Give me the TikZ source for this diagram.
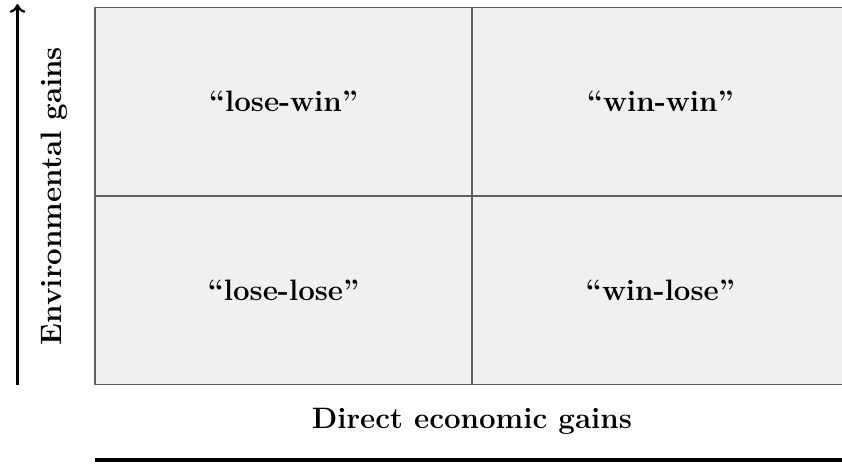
\documentclass[tikz,border=0pt]{standalone}
\usepackage{tikz}
\usetikzlibrary{positioning, arrows.meta}

\begin{document}
\begin{tikzpicture}[
    x=0.02cm, y=-0.02cm, node distance=3.77cm and 7.54cm, on grid,
    cell/.style={rectangle, draw=gray!75!black, fill=gray!12, line width=1pt, minimum width=7.54cm, minimum height=3.77cm, font=\fontsize{16.8}{20}\selectfont\bfseries},
    axislabel/.style={font=\fontsize{16.8}{20}\selectfont\bfseries}
]
    \clip (0,0) rectangle (842,469);

    \node[cell] (losewin) at (283.5,101.75) {``lose-win''};
    \node[cell] (winwin) [right=of losewin] {``win-win''};
    \node[cell] (loselose) [below=of losewin] {``lose-lose''};
    \node[cell] (winlose) [below=of winwin] {``win-lose''};

    \node[axislabel, rotate=90] (envgains) at (54,196) {Environmental gains};
    \node[axislabel] (ecogains) at (472,421) {Direct economic gains};

    \coordinate (ylow) at (17.5,385);
    \coordinate (yhigh) at (17.5,4);
    \coordinate (xlow) at (95,460);
    \coordinate (xhigh) at (850,460);

    \draw[-{To[length=5pt, width=9pt]}, line width=1.3pt] (ylow) -- (yhigh);
    \draw[line width=2pt] (xlow) -- (xhigh);
\end{tikzpicture}
\end{document}
